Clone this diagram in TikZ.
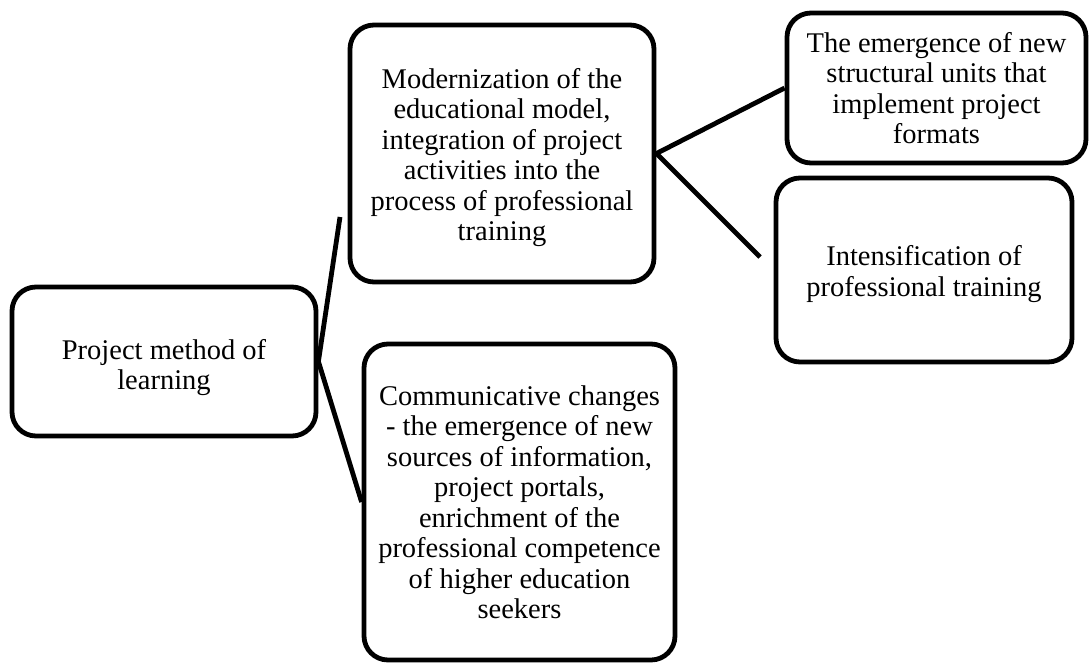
\documentclass[tikz,border=0pt]{standalone}
\usepackage{fontspec}
\setmainfont{Liberation Serif}
\begin{document}
\begin{tikzpicture}[x=1pt,y=-1pt,
  box/.style={draw=black,line width=4.8pt,rounded corners=24pt,inner sep=0pt},
  txt/.style={align=center,inner sep=0pt,font=\fontsize{28.5}{30.5}\selectfont},
  link/.style={draw=black,line width=4.8pt}]
\useasboundingbox[fill=white] (0,0) rectangle (1089,662);
\node[box,minimum width=304pt,minimum height=149pt] (pm) at (164,361.5) {};
\node[txt] (pmt) at ([yshift=-6pt]pm.center)
  {Project method of\\learning};
\node[box,minimum width=304pt,minimum height=257pt] (mod) at (502,153.5) {};
\node[txt] (modt) at ([yshift=-4pt]mod.center)
  {Modernization of the\\educational model,\\integration of project\\activities into the\\process of professional\\training};
\node[box,minimum width=311pt,minimum height=316pt] (com) at (519.5,502) {};
\node[txt] (comt) at (com.center)
  {Communicative changes\\- the emergence of new\\sources of information,\\project portals,\\enrichment of the\\professional competence\\of higher education\\seekers};
\node[box,minimum width=299pt,minimum height=150pt] (emg) at (936.5,88) {};
\node[txt] (emgt) at (emg.center)
  {The emergence of new\\structural units that\\implement project\\formats};
\node[box,minimum width=296pt,minimum height=184pt] (int) at (924,270) {};
\node[txt] (intt) at ([yshift=-4pt]int.center)
  {Intensification of\\professional training};
\coordinate (e1) at (340,217);
\coordinate (e2) at (760,257);
\draw[link] (e1) -- (pm.east) -- (com.west);
\draw[link] (emg.west) -- (mod.east) -- (e2);
\end{tikzpicture}
\end{document}
